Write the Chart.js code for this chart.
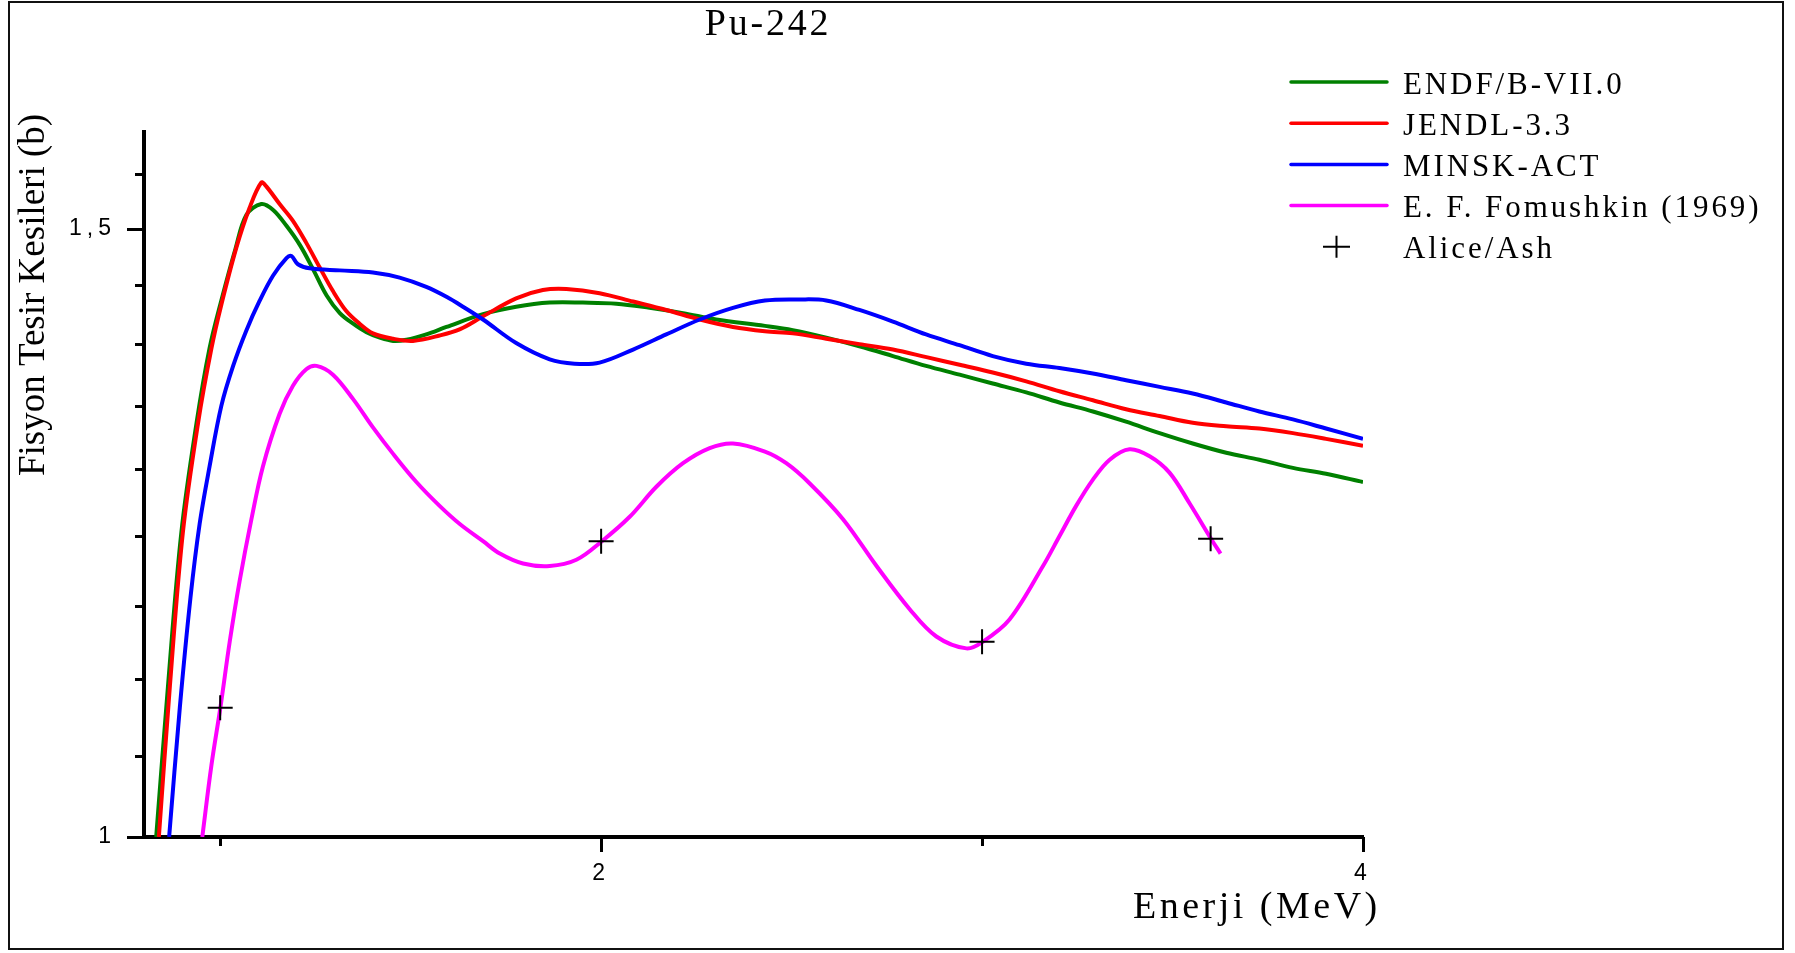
<!DOCTYPE html>
<html lang="tr">
<head>
<meta charset="utf-8">
<title>Pu-242</title>
<script src="https://cdn.jsdelivr.net/npm/chart.js@4/dist/chart.umd.min.js"></script>
<style>
  html, body { margin: 0; padding: 0; background: #fff; }
  #wrap { width: 1795px; height: 953px; }
</style>
</head>
<body>
<div id="wrap"><canvas id="pu242" width="1795" height="953"></canvas></div>
<script>
// Pu-242 fisyon tesir kesitleri: enerji (MeV) ve kesit (b)
const endfE = [0.832, 0.863, 0.898, 0.938, 0.972, 1.003, 1.040, 1.069, 1.108, 1.139, 1.174, 1.209, 1.244, 1.279, 1.314, 1.349, 1.384, 1.419, 1.454, 1.489, 1.541, 1.594, 1.690, 1.777, 1.865, 1.952, 2.040, 2.127, 2.215, 2.302, 2.430, 2.503, 2.591, 2.678, 2.766, 2.853, 2.941, 3.028, 3.116, 3.203, 3.291, 3.378, 3.466, 3.553, 3.641, 3.728, 3.816, 3.903, 4.000];
const endfSigma = [1.000, 1.106, 1.225, 1.318, 1.385, 1.430, 1.480, 1.514, 1.525, 1.519, 1.503, 1.484, 1.460, 1.435, 1.418, 1.408, 1.400, 1.395, 1.392, 1.393, 1.398, 1.405, 1.417, 1.424, 1.428, 1.428, 1.427, 1.423, 1.418, 1.412, 1.406, 1.402, 1.395, 1.387, 1.378, 1.369, 1.361, 1.353, 1.345, 1.336, 1.328, 1.319, 1.309, 1.300, 1.292, 1.286, 1.279, 1.274, 1.267];

const jendlE = [0.839, 0.868, 0.902, 0.942, 0.977, 1.003, 1.043, 1.077, 1.108, 1.121, 1.156, 1.191, 1.226, 1.261, 1.296, 1.331, 1.366, 1.401, 1.454, 1.506, 1.576, 1.630, 1.690, 1.777, 1.847, 1.909, 1.996, 2.084, 2.171, 2.259, 2.346, 2.430, 2.503, 2.591, 2.678, 2.766, 2.854, 2.941, 3.028, 3.116, 3.203, 3.291, 3.378, 3.466, 3.553, 3.641, 3.728, 3.816, 3.903, 4.000];
const jendlSigma = [1.000, 1.106, 1.225, 1.318, 1.385, 1.426, 1.482, 1.521, 1.547, 1.543, 1.525, 1.508, 1.486, 1.462, 1.439, 1.420, 1.408, 1.399, 1.394, 1.392, 1.397, 1.403, 1.415, 1.432, 1.440, 1.441, 1.437, 1.429, 1.421, 1.412, 1.405, 1.401, 1.399, 1.394, 1.389, 1.384, 1.377, 1.370, 1.363, 1.355, 1.346, 1.338, 1.330, 1.324, 1.318, 1.315, 1.313, 1.309, 1.304, 1.298];

const minskE = [0.866, 0.894, 0.922, 0.946, 0.972, 1.003, 1.034, 1.069, 1.104, 1.139, 1.174, 1.187, 1.204, 1.235, 1.314, 1.401, 1.471, 1.541, 1.602, 1.629, 1.690, 1.777, 1.865, 1.930, 1.996, 2.084, 2.171, 2.259, 2.346, 2.430, 2.521, 2.591, 2.678, 2.766, 2.853, 2.941, 3.028, 3.116, 3.203, 3.291, 3.378, 3.466, 3.553, 3.641, 3.728, 3.816, 3.903, 4.000];
const minskSigma = [1.000, 1.090, 1.173, 1.232, 1.280, 1.333, 1.369, 1.402, 1.430, 1.454, 1.471, 1.473, 1.465, 1.461, 1.459, 1.457, 1.452, 1.443, 1.432, 1.426, 1.412, 1.390, 1.375, 1.371, 1.372, 1.384, 1.398, 1.412, 1.423, 1.430, 1.431, 1.430, 1.421, 1.410, 1.398, 1.388, 1.378, 1.371, 1.367, 1.362, 1.356, 1.350, 1.344, 1.336, 1.328, 1.321, 1.313, 1.304];

const fomE = [0.953, 0.977, 1.001, 1.025, 1.051, 1.082, 1.112, 1.156, 1.191, 1.226, 1.253, 1.296, 1.349, 1.401, 1.454, 1.515, 1.576, 1.629, 1.690, 1.734, 1.795, 1.865, 1.935, 2.002, 2.075, 2.145, 2.215, 2.285, 2.346, 2.430, 2.486, 2.547, 2.635, 2.723, 2.810, 2.880, 2.959, 3.002, 3.072, 3.160, 3.203, 3.247, 3.291, 3.335, 3.387, 3.440, 3.492, 3.545, 3.603, 3.626];
const fomSigma = [1.000, 1.049, 1.091, 1.139, 1.186, 1.236, 1.280, 1.326, 1.351, 1.366, 1.369, 1.361, 1.339, 1.314, 1.291, 1.267, 1.247, 1.232, 1.218, 1.208, 1.200, 1.198, 1.203, 1.218, 1.238, 1.263, 1.283, 1.296, 1.300, 1.293, 1.283, 1.266, 1.236, 1.198, 1.164, 1.143, 1.134, 1.139, 1.156, 1.198, 1.222, 1.247, 1.269, 1.286, 1.295, 1.289, 1.275, 1.249, 1.219, 1.208];

const aliceE = [1.0, 2.0, 3.0, 3.6];
const aliceSigma = [1.090, 1.218, 1.139, 1.220];

// eksen bolmeleri
const xTicks = [1, 2, 3, 4];
const xMajor = [2, 4];
const yTicks = [1, 1.0556, 1.1111, 1.1667, 1.2222, 1.2778, 1.3333, 1.3889, 1.4444, 1.5, 1.5556];
const yMajor = [1, 1.5];
const yMajorLabels = ['1', '1,5'];

const SERIF = '"Liberation Serif", "Times New Roman", serif';
const SANS = '"Liberation Sans", Arial, sans-serif';

const toPoints = (xs, ys) => xs.map((x, i) => ({ x: x, y: ys[i] }));

function curve(label, xs, ys, color, order) {
    return {
        label: label,
        data: toPoints(xs, ys),
        borderColor: color,
        backgroundColor: color,
        borderWidth: 4,
        pointRadius: 0,
        fill: false,
        tension: 0.35,
        order: order
    };
}

// baslik, eksen yazilari, lejant, bolme cizgileri ve cerceve
const decorations = {
    id: 'decorations',
    beforeDraw(chart) {
        // eksen etiketleri icin harf araligi
        chart.ctx.letterSpacing = '5px';
    },
    afterDraw(chart) {
        const { ctx, chartArea } = chart;
        const xs = chart.scales.x;
        const ys = chart.scales.y;
        ctx.save();
        ctx.letterSpacing = '0px';

        // dis cerceve
        ctx.strokeStyle = '#111';
        ctx.lineWidth = 2;
        ctx.strokeRect(9, 2, 1774, 947);

        // bolme cizgileri
        ctx.strokeStyle = '#000';
        ctx.lineWidth = 3;
        ctx.beginPath();
        yTicks.forEach(v => {
            const py = Math.round(ys.getPixelForValue(v)) + 0.5;
            const len = yMajor.includes(v) ? 17 : 9;
            ctx.moveTo(chartArea.left, py);
            ctx.lineTo(chartArea.left - len, py);
        });
        xTicks.forEach(v => {
            const px = Math.round(xs.getPixelForValue(v)) + 0.5;
            const len = xMajor.includes(v) ? 15 : 9;
            ctx.moveTo(px, chartArea.bottom);
            ctx.lineTo(px, chartArea.bottom + len);
        });
        ctx.stroke();

        ctx.fillStyle = '#000';
        ctx.textBaseline = 'alphabetic';

        // baslik
        ctx.font = '38px ' + SERIF;
        ctx.letterSpacing = '2.8px';
        ctx.textAlign = 'center';
        ctx.fillText('Pu-242', 768, 35);

        // x ekseni basligi
        ctx.letterSpacing = '3.5px';
        ctx.textAlign = 'left';
        ctx.fillText('Enerji (MeV)', 1133, 918);

        // y ekseni basligi
        ctx.save();
        ctx.letterSpacing = '0px';
        ctx.font = '37px ' + SERIF;
        ctx.translate(44, 295);
        ctx.rotate(-Math.PI / 2);
        ctx.textAlign = 'center';
        ctx.fillText('Fisyon Tesir Kesileri (b)', 0, 0);
        ctx.restore();

        // lejant
        ctx.font = '31px ' + SERIF;
        ctx.letterSpacing = '2.9px';
        ctx.textAlign = 'left';
        chart.data.datasets.forEach((ds, i) => {
            const cy = 82 + i * 41.2;
            ctx.strokeStyle = ds.borderColor;
            if (ds.showLine === false) {
                ctx.lineWidth = 2;
                ctx.beginPath();
                ctx.moveTo(1323, cy);
                ctx.lineTo(1350, cy);
                ctx.moveTo(1336.5, cy - 11);
                ctx.lineTo(1336.5, cy + 11);
                ctx.stroke();
            } else {
                ctx.lineWidth = 3.5;
                ctx.lineCap = 'round';
                ctx.beginPath();
                ctx.moveTo(1291, cy);
                ctx.lineTo(1387, cy);
                ctx.stroke();
                ctx.lineCap = 'butt';
            }
            ctx.fillText(ds.label, 1403, cy + 11.5);
        });
        ctx.restore();
    }
};

const ctx = document.getElementById('pu242').getContext('2d');
const chart = new Chart(ctx, {
    type: 'line',
    data: {
        datasets: [
            curve('ENDF/B-VII.0', endfE, endfSigma, '#008000', 4),
            curve('JENDL-3.3', jendlE, jendlSigma, '#ff0000', 3),
            curve('MINSK-ACT', minskE, minskSigma, '#0000ff', 2),
            curve('E. F. Fomushkin (1969)', fomE, fomSigma, '#ff00ff', 1),
            {
                label: 'Alice/Ash',
                data: toPoints(aliceE, aliceSigma),
                showLine: false,
                pointStyle: 'cross',
                pointRadius: 12.5,
                pointBorderWidth: 2,
                borderColor: '#000',
                pointBorderColor: '#000',
                backgroundColor: '#000',
                order: 0
            }
        ]
    },
    options: {
        responsive: false,
        animation: false,
        events: [],
        layout: { padding: { top: 132, right: 432, left: 0, bottom: 0 } },
        plugins: {
            legend: { display: false },
            title: { display: false },
            tooltip: { enabled: false }
        },
        scales: {
            x: {
                type: 'linear',
                min: 0.8,
                max: 4,
                afterFit: scale => { scale.height = 116; },
                afterBuildTicks: scale => { scale.ticks = xTicks.map(v => ({ value: v })); },
                grid: { display: false, drawTicks: false },
                border: { display: true, width: 4, color: '#000' },
                ticks: {
                    autoSkip: false,
                    maxRotation: 0,
                    padding: 23,
                    color: '#000',
                    font: { family: SANS, size: 23 },
                    callback: value => (xMajor.includes(value) ? String(value) : '')
                }
            },
            y: {
                type: 'logarithmic',
                min: 1,
                max: 1.6,
                afterFit: scale => { scale.width = 144; },
                afterBuildTicks: scale => { scale.ticks = yTicks.map(v => ({ value: v })); },
                grid: { display: false, drawTicks: false },
                border: { display: true, width: 4, color: '#000' },
                ticks: {
                    autoSkip: false,
                    padding: 28,
                    color: '#000',
                    font: { family: SANS, size: 23 },
                    callback: value => {
                        const i = yMajor.indexOf(value);
                        return i >= 0 ? yMajorLabels[i] : '';
                    }
                }
            }
        }
    },
    plugins: [decorations]
});
</script>
</body>
</html>
